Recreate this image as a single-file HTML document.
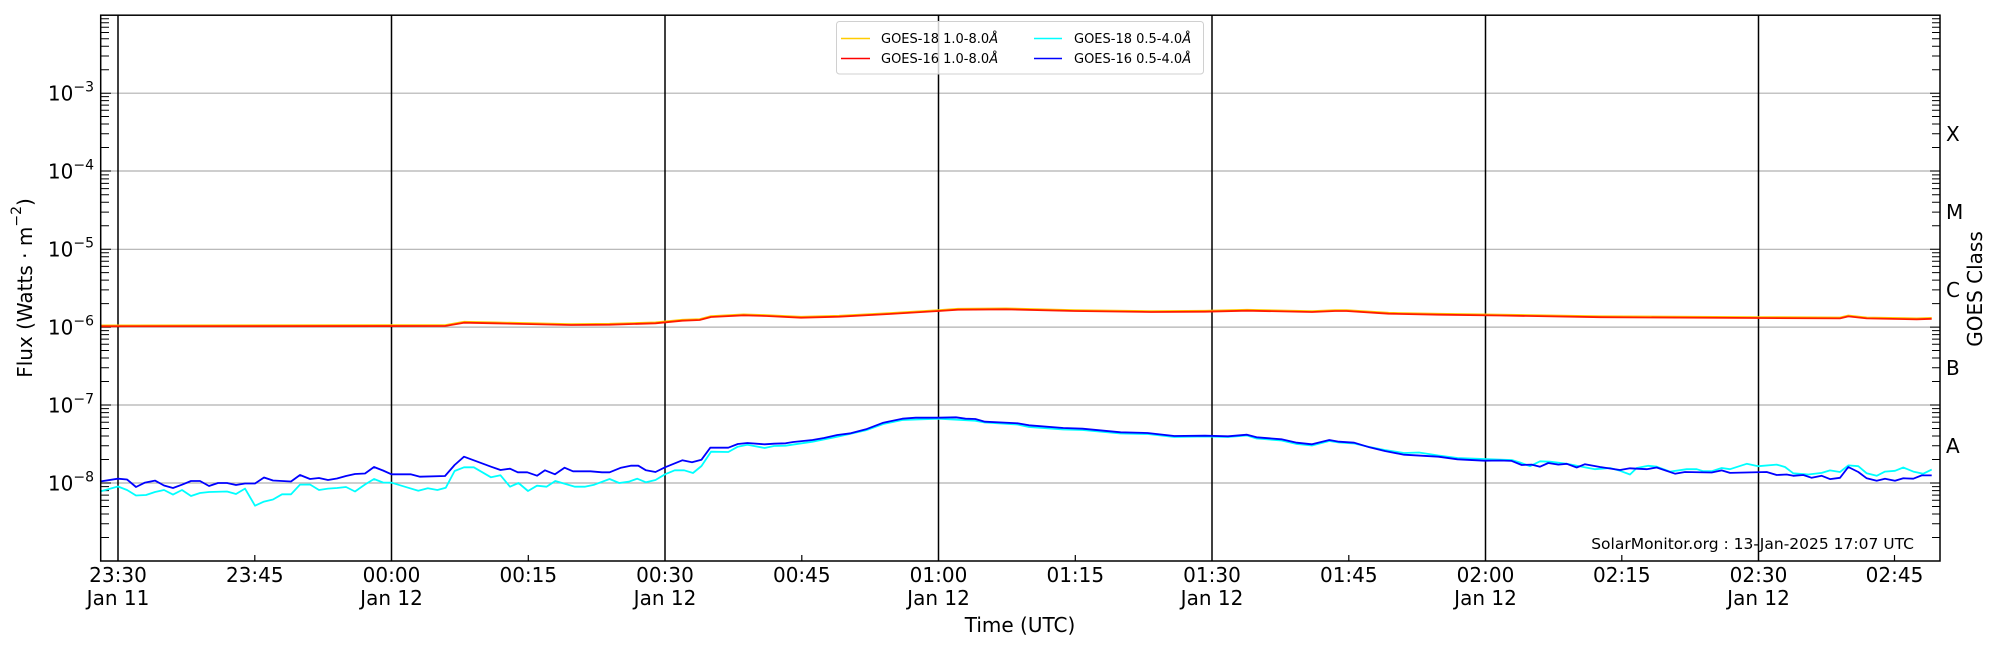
<!DOCTYPE html>
<html><head><meta charset="utf-8"><style>
html,body{margin:0;padding:0;background:#fff;}
svg{display:block;font-family:"DejaVu Sans","Liberation Sans",sans-serif;}
</style></head><body>
<svg width="2000" height="650" viewBox="0 0 2000 650" xmlns="http://www.w3.org/2000/svg">
<defs>
<g id="dl" stroke="#000" stroke-width="1">
<path d="M101 0h10M101 -23.5h8M101 -37.2h8M101 -47h8M101 -54.5h8M101 -60.7h8M101 -65.9h8M101 -70.4h8M101 -74.4h8"/>
<path d="M1940 0h-10M1940 -23.5h-8M1940 -37.2h-8M1940 -47h-8M1940 -54.5h-8M1940 -60.7h-8M1940 -65.9h-8M1940 -70.4h-8M1940 -74.4h-8"/>
</g>
</defs>
<rect width="2000" height="650" fill="#fff"/>
<g stroke="#b0b0b0" stroke-width="1.2">
<line x1="101" x2="1940" y1="93.2" y2="93.2"/>
<line x1="101" x2="1940" y1="171" y2="171"/>
<line x1="101" x2="1940" y1="249.3" y2="249.3"/>
<line x1="101" x2="1940" y1="327.1" y2="327.1"/>
<line x1="101" x2="1940" y1="405" y2="405"/>
<line x1="101" x2="1940" y1="483" y2="483"/>
</g>
<g stroke="#000" stroke-width="1.5">
<line x1="118" x2="118" y1="15" y2="561"/>
<line x1="391.5" x2="391.5" y1="15" y2="561"/>
<line x1="665" x2="665" y1="15" y2="561"/>
<line x1="938.5" x2="938.5" y1="15" y2="561"/>
<line x1="1212" x2="1212" y1="15" y2="561"/>
<line x1="1485.5" x2="1485.5" y1="15" y2="561"/>
<line x1="1758.5" x2="1758.5" y1="15" y2="561"/>
</g>
<g stroke="#000" stroke-width="1.2">
<line x1="254.8" x2="254.8" y1="561" y2="555"/>
<line x1="528.3" x2="528.3" y1="561" y2="555"/>
<line x1="801.8" x2="801.8" y1="561" y2="555"/>
<line x1="1075.3" x2="1075.3" y1="561" y2="555"/>
<line x1="1348.8" x2="1348.8" y1="561" y2="555"/>
<line x1="1621.8" x2="1621.8" y1="561" y2="555"/>
<line x1="1894.5" x2="1894.5" y1="561" y2="555"/>
</g>
<use href="#dl" transform="translate(0,93.2)"/>
<use href="#dl" transform="translate(0,171)"/>
<use href="#dl" transform="translate(0,249.3)"/>
<use href="#dl" transform="translate(0,327.1)"/>
<use href="#dl" transform="translate(0,405)"/>
<use href="#dl" transform="translate(0,483)"/>
<use href="#dl" transform="translate(0,561)"/>
<g fill="none" stroke-width="1.8" stroke-linejoin="round">
<polyline stroke="#00ffff" points="100,491.5 118,486.5 127,490 136,495.5 146,495 155,492 164,490 173,494.6 182,490 191,496 200,493 209,492 227,491.5 236,494 245,488.6 255,505.7 264,501.6 273,499.5 282,494.3 291,494.3 300,484.6 310,484.5 319,490 328,488.6 337,488 346,487 355,491.5 365,484.5 374,479 383,482.5 391.5,482.7 406.8,487.3 418.3,490.7 427.8,488.3 437.4,490 445.8,487.7 454.6,471 464,467.3 473.8,467.3 491,477.3 500.5,475.3 510,486.7 518.5,483 528,491 537,485.7 546.5,486.7 555.3,481 575,486.7 584.7,486.7 594.3,484.7 609.6,479 619.2,483 628.8,481.7 637.2,478.7 646,482.3 655.5,480 665,474.3 674.7,470.3 684.2,470.3 693,473 701.5,466 711,451.7 728.3,452 737.8,446.7 747.4,444.7 764.6,448 774,446 785.6,445.7 812.5,441.7 837.3,436.7 866,430.3 883.3,424 902.4,420 938.7,418.7 975,420.7 984.9,422.5 1017.4,424.5 1029,427 1063.3,429.5 1082.5,430 1120.7,433.5 1147.5,434 1174.3,437 1205,436.5 1228,437 1247,435.5 1256.6,438.5 1281.5,440.5 1296.8,444 1312,445.5 1329.3,441 1339,442.5 1354.2,443.5 1369.5,447 1384.8,450 1404,453 1419,452.5 1438.4,455.5 1457.5,458 1484.3,459 1500,459.6 1511.7,460 1520,462.5 1530,466.2 1540,461.3 1550,461.7 1566.7,463.8 1583.3,467 1595,469.2 1610,468 1620,470.8 1630,474.5 1636.7,468 1648.3,465.8 1656.7,466.7 1670,471.6 1686.7,469.2 1696.7,469.2 1703.3,471.2 1711.7,471.2 1721.7,468 1730,469.2 1746.7,463.8 1758.3,466.2 1776.7,464.6 1785,467 1793.3,473.3 1808.3,474.5 1821.7,472.9 1830,470.4 1840,472 1848.3,465.4 1858.3,466.2 1866.7,473.3 1876.7,475.8 1885,471.6 1895,470.8 1903.3,467.5 1913.3,471.6 1923.3,473.7 1931.7,469.6"/>
<polyline stroke="#0000ff" points="100,481.5 118,478.7 127,479.5 136,487 145,482.6 155,480.6 164,485.5 173,488 182,484.7 191,481 200,481 209,486 218,483 227,483 236,485 245,483.5 255,483.5 264,477.5 273,480.5 291,481.5 300,475 310,479 319,478 328,480 337,478.5 346,476 355,474 365,473.5 374,467 383,470.5 391.5,474.3 410.6,474.3 420,476.7 445,476 454.6,465 464,456.7 491,466.7 500.5,470 510,468.7 517.8,472.3 527.3,472.3 537,475.7 545,470.3 555,474.3 564.5,467.7 573,471.3 590.5,471.3 602,472.3 609.6,472.3 621,467.7 630.7,465.7 638.3,465.7 646,470.3 655.5,472 665,467.3 682.3,460.3 692,462.3 701.5,459.7 710.3,447.7 728.3,447.7 737.8,444 747.4,443 764.6,444.3 774,443.7 785.6,443.3 793.3,442 812.5,440 824,438 837.3,435 850.7,433.3 866,429.3 883.3,422.7 902.4,418.7 915.8,417.7 938.7,417.7 956,417.3 965.5,418.7 975.3,419 984.9,421.7 1017.4,423.3 1029,425.3 1063.3,428 1082.5,428.7 1120.7,432.3 1147.5,433 1174.3,436 1205,435.7 1228,436.3 1247,434.7 1256.6,437.3 1281.5,439.3 1296.8,442.7 1312,444.3 1329.3,440 1339,441.7 1354.2,442.7 1369.5,447.3 1384.8,451 1404,454.7 1438.4,456.7 1457.5,459.3 1484.3,460.7 1500,460.5 1511.7,460.9 1521.7,465 1531.7,464.6 1540,466.7 1548.3,463 1558.3,464.6 1566.7,463.8 1576.7,467.5 1585,464.2 1600,467 1620,470 1630,468.3 1646.7,469.2 1656.7,467.5 1675,473.7 1685,472 1711.7,472.5 1721.7,470.4 1730,472.9 1766.7,472 1776.7,475 1786.7,474.5 1793.3,475.8 1803.3,475 1811.7,477.8 1821.7,475.8 1830,479.1 1840,477.8 1848.3,467 1858.3,472 1866.7,478.3 1876.7,480.7 1885,478.7 1895,480.7 1903.3,478.3 1913.3,478.7 1921.7,475.4 1931.7,475.4"/>
<polyline stroke="#ffcc00" stroke-width="1.2" transform="translate(0,-1.2)" points="100,326.3 445,326 464,322.7 495,323.3 571,325 609.6,324.7 655.5,323.3 682.3,320.7 699.6,320 711,317 743.6,315.3 766.5,316 801,317.7 839,316.7 889,314 938.7,311 958,309.7 1006,309.3 1074.8,311 1151,312 1205,311.7 1247,310.7 1312,312 1335,311 1346.5,311 1388.6,313.7 1438.4,314.7 1500,315.5 1600,317.2 1756.7,318 1840,318.4 1848.3,316.4 1866.7,318.4 1916.7,319.3 1931.7,318.8"/>
<polyline stroke="#ff1a00" points="100,326.3 445,326 464,322.7 495,323.3 571,325 609.6,324.7 655.5,323.3 682.3,320.7 699.6,320 711,317 743.6,315.3 766.5,316 801,317.7 839,316.7 889,314 938.7,311 958,309.7 1006,309.3 1074.8,311 1151,312 1205,311.7 1247,310.7 1312,312 1335,311 1346.5,311 1388.6,313.7 1438.4,314.7 1500,315.5 1600,317.2 1756.7,318 1840,318.4 1848.3,316.4 1866.7,318.4 1916.7,319.3 1931.7,318.8"/>
</g>
<rect x="100.7" y="15.2" width="1839.3" height="545.8" fill="none" stroke="#000" stroke-width="1.5"/>
<g font-size="20" fill="#000" text-anchor="end">
<text x="94" y="100.5">10<tspan font-size="14" dy="-9">−3</tspan></text>
<text x="94" y="178.5">10<tspan font-size="14" dy="-9">−4</tspan></text>
<text x="94" y="256.5">10<tspan font-size="14" dy="-9">−5</tspan></text>
<text x="94" y="334.5">10<tspan font-size="14" dy="-9">−6</tspan></text>
<text x="94" y="412.5">10<tspan font-size="14" dy="-9">−7</tspan></text>
<text x="94" y="490.5">10<tspan font-size="14" dy="-9">−8</tspan></text>
</g>
<text x="25" y="288" font-size="20" text-anchor="middle" dominant-baseline="central" transform="rotate(-90 25 288)">Flux (Watts · m<tspan font-size="14" dy="-8">−2</tspan><tspan dy="8">)</tspan></text>
<g font-size="20" fill="#000">
<text x="1946" y="141">X</text>
<text x="1946" y="219">M</text>
<text x="1946" y="297">C</text>
<text x="1946" y="375">B</text>
<text x="1946" y="453">A</text>
</g>
<text x="1975" y="289" font-size="20" text-anchor="middle" dominant-baseline="central" transform="rotate(-90 1975 289)">GOES Class</text>
<g font-size="20" fill="#000" text-anchor="middle">
<text x="118" y="582">23:30</text><text x="118" y="605">Jan 11</text>
<text x="254.8" y="582">23:45</text>
<text x="391.5" y="582">00:00</text><text x="391.5" y="605">Jan 12</text>
<text x="528.3" y="582">00:15</text>
<text x="665" y="582">00:30</text><text x="665" y="605">Jan 12</text>
<text x="801.8" y="582">00:45</text>
<text x="938.5" y="582">01:00</text><text x="938.5" y="605">Jan 12</text>
<text x="1075.3" y="582">01:15</text>
<text x="1212" y="582">01:30</text><text x="1212" y="605">Jan 12</text>
<text x="1348.8" y="582">01:45</text>
<text x="1485.5" y="582">02:00</text><text x="1485.5" y="605">Jan 12</text>
<text x="1621.8" y="582">02:15</text>
<text x="1758.5" y="582">02:30</text><text x="1758.5" y="605">Jan 12</text>
<text x="1894.5" y="582">02:45</text>
<text x="1020" y="632">Time (UTC)</text>
</g>
<text x="1914" y="549" font-size="15.5" text-anchor="end">SolarMonitor.org : 13-Jan-2025 17:07 UTC</text>
<rect x="836.5" y="21.5" width="367" height="52.5" rx="3" fill="#fff" fill-opacity="0.8" stroke="#d0d0d0" stroke-width="1"/>
<g stroke-width="1.5">
<line x1="841" x2="870" y1="38.5" y2="38.5" stroke="#ffcc00"/>
<line x1="841" x2="870" y1="58.5" y2="58.5" stroke="#ff0000"/>
<line x1="1034" x2="1062" y1="38.5" y2="38.5" stroke="#00ffff"/>
<line x1="1034" x2="1062" y1="58.5" y2="58.5" stroke="#0000ff"/>
</g>
<g font-size="13" fill="#000">
<text x="881" y="43">GOES-18 1.0-8.0<tspan font-style="italic">Å</tspan></text>
<text x="881" y="63">GOES-16 1.0-8.0<tspan font-style="italic">Å</tspan></text>
<text x="1074" y="43">GOES-18 0.5-4.0<tspan font-style="italic">Å</tspan></text>
<text x="1074" y="63">GOES-16 0.5-4.0<tspan font-style="italic">Å</tspan></text>
</g>
</svg>
</body></html>
